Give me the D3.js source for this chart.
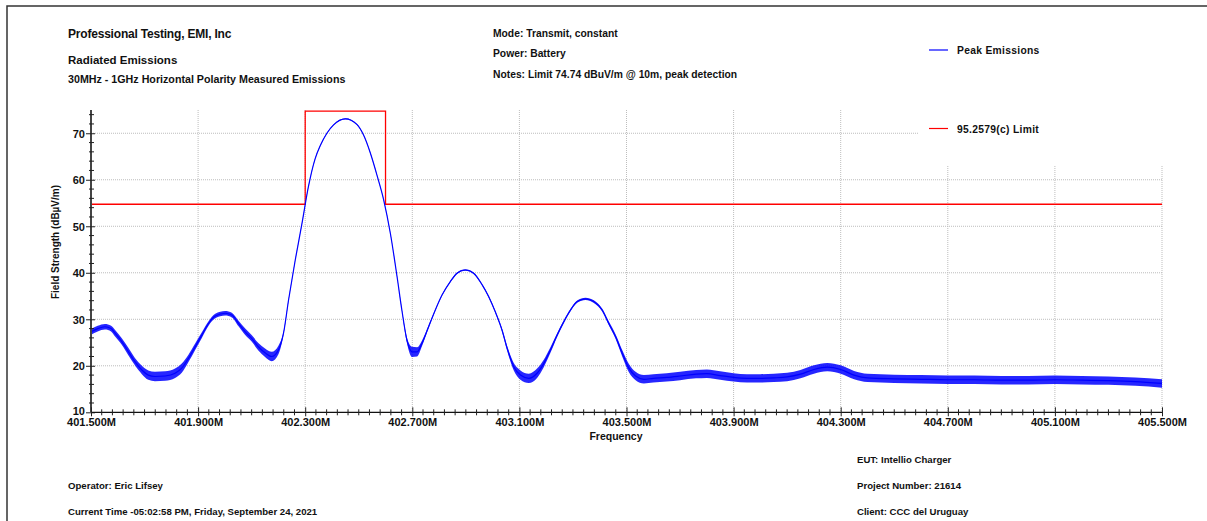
<!DOCTYPE html>
<html><head><meta charset="utf-8">
<script src="https://cdn.jsdelivr.net/npm/d3@7"></script>
<style>
body{margin:0;background:#fff;}
svg{display:block;font-family:"Liberation Sans",Arial,sans-serif;font-weight:bold;}
</style></head>
<body><svg id="c" width="1207" height="521"></svg>
<script>
// ---- data ----
const freqMHz = [401.500,401.525,401.552,401.575,401.590,401.615,401.640,401.664,401.690,401.714,401.739,401.777,401.814,401.839,401.864,401.889,401.914,401.939,401.964,402.001,402.026,402.051,402.076,402.100,402.125,402.150,402.175,402.200,402.219,402.238,402.263,402.288,402.312,402.337,402.356,402.381,402.406,402.450,402.493,402.518,402.543,402.568,402.593,402.618,402.643,402.661,402.680,402.699,402.718,402.736,402.761,402.786,402.811,402.842,402.867,402.898,402.929,402.961,402.985,403.010,403.035,403.054,403.079,403.104,403.135,403.166,403.191,403.216,403.241,403.266,403.291,403.316,403.347,403.378,403.409,403.434,403.459,403.484,403.509,403.534,403.565,403.600,403.650,403.700,403.760,403.800,403.850,403.900,403.950,404.000,404.050,404.100,404.150,404.200,404.250,404.300,404.350,404.400,404.500,404.600,404.700,404.800,404.900,405.000,405.100,405.200,405.300,405.400,405.500];
const peakLevel = [27.3,28.0,28.4,28.0,27.0,25.2,23.0,20.9,19.1,18.0,17.7,17.8,18.4,19.5,21.6,24.1,26.6,29.1,30.7,31.3,30.9,29.1,27.3,25.9,24.1,22.8,22.0,23.4,27.0,34.2,42.8,50.6,58.5,64.5,67.3,70.0,71.8,73.1,71.9,69.6,65.8,61.0,55.7,48.5,39.2,32.0,25.5,23.0,23.0,24.8,28.4,32.0,35.2,38.1,39.9,40.6,39.9,37.4,34.9,31.6,27.7,23.8,19.8,18.0,17.3,18.4,20.5,23.4,26.6,29.5,32.0,33.8,34.4,33.8,32.0,29.1,26.3,22.7,19.5,17.8,17.1,17.3,17.5,17.8,18.2,18.3,17.9,17.5,17.3,17.3,17.4,17.6,18.2,19.2,19.7,19.2,18.0,17.4,17.2,17.1,17.0,17.0,16.9,16.9,17.0,16.9,16.8,16.6,16.2];
// half-width of the noise band seen around the trace (dB)
const noiseBand = [0.6,0.6,0.6,0.6,0.7,0.7,0.8,0.8,0.9,1.0,1.0,1.0,1.0,1.0,0.8,0.7,0.6,0.5,0.5,0.5,0.5,0.6,0.7,0.7,0.8,0.9,1.0,0.9,0.3,0.15,0.1,0.1,0.1,0.1,0.1,0.1,0.1,0.1,0.1,0.1,0.1,0.1,0.1,0.1,0.1,0.15,0.6,1.1,1.0,0.6,0.3,0.15,0.15,0.15,0.15,0.15,0.15,0.15,0.2,0.2,0.3,0.5,0.8,1.0,1.0,1.0,0.8,0.6,0.4,0.3,0.25,0.25,0.25,0.3,0.3,0.4,0.5,0.7,0.9,0.9,0.9,0.9,0.9,0.9,0.9,0.9,0.9,0.9,0.9,0.9,0.9,0.9,0.9,0.9,0.9,0.9,0.9,0.9,0.9,0.9,0.9,0.9,0.9,0.9,0.9,0.9,0.9,0.9,0.9];
const limitFreq = [401.5, 402.3, 402.6, 405.5];
const limitLevel = [54.74, 74.74, 54.74, 54.74];
const xMajorTicks = [401.5,401.9,402.3,402.7,403.1,403.5,403.9,404.3,404.7,405.1,405.5];
const yMajorTicks = [10,20,30,40,50,60,70];
const headerLeft = ["Professional Testing, EMI, Inc","Radiated Emissions","30MHz - 1GHz Horizontal Polarity Measured Emissions"];
const headerMid = ["Mode: Transmit, constant","Power: Battery","Notes: Limit 74.74 dBuV/m @ 10m, peak detection"];
const footerLeft = ["Operator: Eric Lifsey","Current Time -05:02:58 PM, Friday, September 24, 2021"];
const footerRight = ["EUT: Intellio Charger","Project Number: 21614","Client: CCC del Uruguay"];
const legendNames = ["Peak Emissions","95.2579(c) Limit"];

// ---- drawing ----
const svg = d3.select("#c");
const L=91, R=1162, T=110, B=412.3;
const x = d3.scaleLinear().domain([401.5,405.5]).range([L,R]);
const y = d3.scaleLinear().domain([10,75]).range([B,T]);

// outer frame
svg.append("path").attr("d","M7,521V6H1207").attr("fill","none").attr("stroke","#333").attr("stroke-width",1.5);

// grid
const grid = svg.append("g").attr("stroke","#bdbdbd").attr("stroke-width",1).attr("stroke-dasharray","1,1");
grid.selectAll("line.h").data(yMajorTicks.slice(1)).join("line")
  .attr("x1",L).attr("x2",R).attr("y1",d=>y(d)).attr("y2",d=>y(d));
grid.selectAll("line.v").data(xMajorTicks.slice(1)).join("line")
  .attr("y1",T).attr("y2",B).attr("x1",d=>x(d)).attr("x2",d=>x(d));

// legend background box
svg.append("rect").attr("x",918).attr("y",8).attr("width",289).attr("height",157).attr("fill","#fff");

// limit line
svg.append("path")
  .datum(limitFreq.map((f,i)=>[f,limitLevel[i]]))
  .attr("fill","none").attr("stroke","#ff0000").attr("stroke-width",1.3)
  .attr("d",d3.line().x(d=>x(d[0])).y(d=>y(d[1])).curve(d3.curveStepAfter));

// trace
const pts = freqMHz.map((f,i)=>({f, v:peakLevel[i], n:noiseBand[i]}));
svg.append("path").datum(pts)
  .attr("fill","#0000ff").attr("fill-opacity",0.85)
  .attr("d",d3.area().x(d=>x(d.f)).y0(d=>y(d.v-d.n)).y1(d=>y(d.v+d.n)).curve(d3.curveMonotoneX));
svg.append("path").datum(pts)
  .attr("fill","none").attr("stroke","#0000ff").attr("stroke-width",1.2)
  .attr("d",d3.line().x(d=>x(d.f)).y(d=>y(d.v)).curve(d3.curveMonotoneX));

// axes
const yAx = svg.append("g").attr("transform",`translate(${L},0)`)
  .call(d3.axisLeft(y).tickValues(yMajorTicks).tickSize(5).tickPadding(1));
yAx.select(".domain").attr("stroke","#444").attr("stroke-width",2).attr("d",`M0,${T}V${B}`);
yAx.selectAll(".tick line").attr("x1",-5).attr("x2",4).attr("stroke","#222");
yAx.selectAll(".tick text").attr("font-size",11).attr("font-weight","bold").attr("fill","#111")
  .attr("font-family","Liberation Sans, Arial, sans-serif").attr("dy",d=>d===10?"0.2em":"0.35em");
const yMinor = d3.range(10,75.01,2).filter(v=>v%10!==0);
svg.append("g").selectAll("line").data(yMinor).join("line")
  .attr("x1",L-2).attr("x2",L+3).attr("y1",d=>y(d)).attr("y2",d=>y(d)).attr("stroke","#222");

const xAx = svg.append("g").attr("transform",`translate(0,${B})`)
  .call(d3.axisBottom(x).tickValues(xMajorTicks).tickSize(4).tickPadding(1).tickFormat(d=>d.toFixed(3)+"M"));
xAx.select(".domain").attr("stroke","#111").attr("stroke-width",1.3).attr("d",`M${L},0H${R}`);
xAx.selectAll(".tick line").attr("y1",-5).attr("y2",4).attr("stroke","#222");
xAx.selectAll(".tick text").attr("font-size",11).attr("font-weight","bold").attr("fill","#111")
  .attr("font-family","Liberation Sans, Arial, sans-serif").attr("dy","0.82em");
const xMinor = d3.range(0,101).map(i=>401.5+i*0.04).filter((v,i)=>i%10!==0);
svg.append("g").selectAll("line").data(xMinor).join("line")
  .attr("y1",B-3).attr("y2",B+3).attr("x1",d=>x(d)).attr("x2",d=>x(d)).attr("stroke","#222");

// axis titles
svg.append("text").attr("transform","translate(59,242) rotate(-90)").attr("text-anchor","middle")
  .attr("font-size",10).attr("fill","#111").text("Field Strength (dBµV/m)");
svg.append("text").attr("x",616).attr("y",440).attr("text-anchor","middle")
  .attr("font-size",10.5).attr("fill","#111").text("Frequency");

// header
const hl = [[38,12,-0.2],[64,11.5,0],[82.5,10.7,0]];
headerLeft.forEach((t,i)=>svg.append("text").attr("x",68).attr("y",hl[i][0]).attr("font-size",hl[i][1])
  .attr("letter-spacing",hl[i][2]).attr("fill","#111").text(t));
const hm = [37,57,77.5];
headerMid.forEach((t,i)=>svg.append("text").attr("x",493).attr("y",hm[i]).attr("font-size",10.3)
  .attr("fill","#111").text(t));

// legend
const legY = [50,128.5];
const legC = ["#0000ff","#ff0000"];
legendNames.forEach((t,i)=>{
  svg.append("line").attr("x1",929).attr("x2",948).attr("y1",legY[i]).attr("y2",legY[i]).attr("stroke",legC[i]).attr("stroke-width",1.2);
  svg.append("text").attr("x",957).attr("y",legY[i]+4).attr("font-size",10.3).attr("letter-spacing",0.3).attr("fill","#111").text(t);
});

// footer
const fl=[488.5,514.5];
footerLeft.forEach((t,i)=>svg.append("text").attr("x",68).attr("y",fl[i]).attr("font-size",9.6).attr("fill","#111").text(t));
const fr=[462.5,488.5,514.5];
footerRight.forEach((t,i)=>svg.append("text").attr("x",857).attr("y",fr[i]).attr("font-size",9.6).attr("fill","#111").text(t));
</script></body></html>
